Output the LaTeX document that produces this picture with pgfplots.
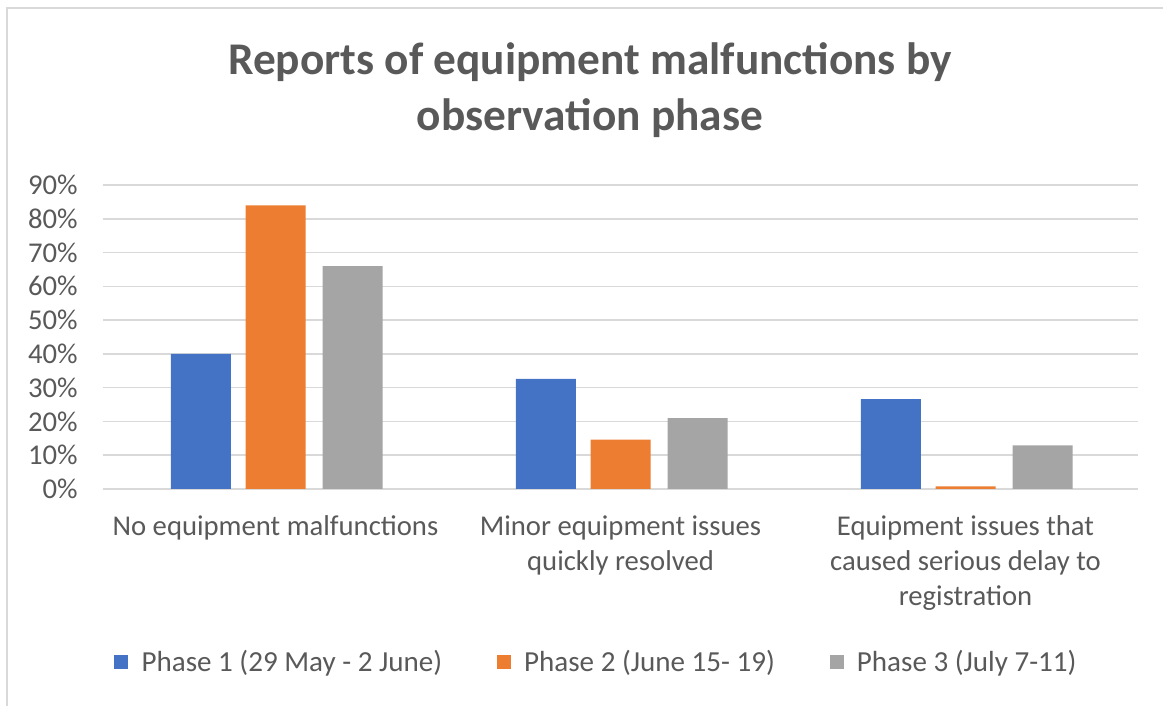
\documentclass[border=0pt]{standalone}
\usepackage{fontspec}
\setmainfont{Carlito}
\usepackage{pgfplots}
\pgfplotsset{compat=1.18}
\definecolor{cblue}{HTML}{4472C4}
\definecolor{corange}{HTML}{ED7D31}
\definecolor{cgray}{HTML}{A5A5A5}
\definecolor{gridc}{HTML}{D9D9D9}
\definecolor{txt}{HTML}{595959}
\pgfplotsset{sqleg/.style={legend image code/.code={\fill[##1,draw=none] (0pt,-5.25pt) rectangle (10.5pt,5.25pt);}}}
\begin{document}
\begin{tikzpicture}[x=0.75pt,y=0.75pt]
\path[use as bounding box] (0,0) rectangle (1163,706);
\draw[gridc, line width=1.5pt] (7,0) -- (7,698) -- (1163,698);
\node[font=\fontsize{34}{42}\selectfont\bfseries, text=txt, align=center] at (590,616) {Reports of equipment malfunctions by\\observation phase};
\begin{axis}[
  at={(77.25pt,162.75pt)}, anchor=south west,
  scale only axis, width=776.25pt, height=228pt,
  xmin=-0.5, xmax=2.5, ymin=0, ymax=90,
  xtick={0,1,2},
  xticklabels={{No equipment malfunctions},{Minor equipment issues\\quickly resolved},{Equipment issues that\\caused serious delay to\\registration}},
  ytick={0,10,20,30,40,50,60,70,80,90},
  yticklabels={0\%,10\%,20\%,30\%,40\%,50\%,60\%,70\%,80\%,90\%},
  ymajorgrids, grid style={gridc, line width=1.1pt},
  axis line style={draw=none}, major tick length=0pt, tick style={draw=none},
  tick label style={font=\fontsize{21.5}{26.25}\selectfont, text=txt},
  yticklabel style={anchor=east, inner sep=0pt, xshift=-18.75pt},
  xticklabel style={align=center, anchor=north, inner sep=0pt, yshift=-20pt},
  legend columns=3,
  legend style={at={(0.477,-0.569)}, anchor=center, draw=none, fill=none,
    font=\fontsize{21.8}{26}\selectfont, text=txt,
    /tikz/every even column/.append style={column sep=39pt},
    /tikz/every odd column/.append style={column sep=8pt}},
]
\addplot[ybar, sqleg, fill=cblue, draw=none, bar width=45pt, bar shift=-56pt] coordinates {(0,40) (1,32.6) (2,26.6)};
\addplot[ybar, sqleg, fill=corange, draw=none, bar width=45pt, bar shift=0pt] coordinates {(0,84) (1,14.6) (2,0.8)};
\addplot[ybar, sqleg, fill=cgray, draw=none, bar width=45pt, bar shift=57.75pt] coordinates {(0,66) (1,21) (2,12.9)};
\legend{Phase 1 (29 May - 2 June),Phase 2 (June 15- 19),Phase 3 (July 7-11)}
\end{axis}
\end{tikzpicture}
\end{document}
